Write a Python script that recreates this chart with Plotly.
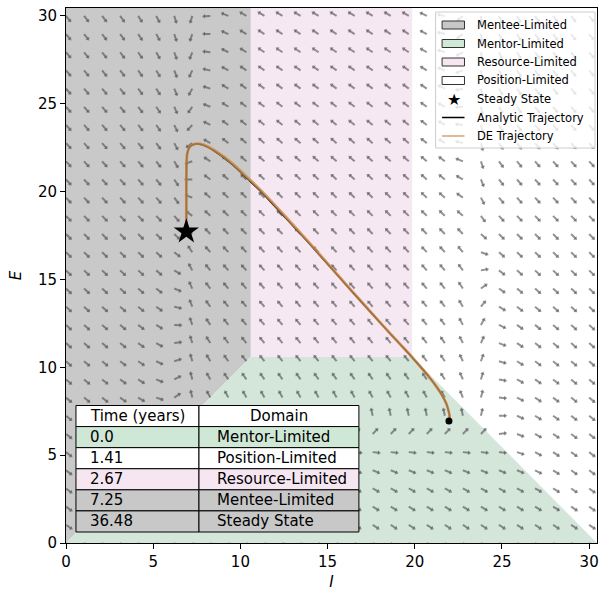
import numpy as np
import plotly.graph_objects as go

# ---------------- data ----------------
AX_MAX = 30.45          # axis limit (both axes)
R_LIM = 10.6            # resource limit -> domain corner at (R_LIM, R_LIM)
K_POS = 30.45           # position capacity: position-limited boundary E = K_POS - I

# direction-field model (parameters estimated from the arrow directions)
C_RATE = 1.16
LAMBDA = 8.0
DELTA = 0.14
GAMMA = 5.5
grid_vals = np.linspace(0, 30, 30)
ARROW_LEN = 0.36

# trajectories (I, E)
de_I = [21.96, 22.0, 21.93, 21.8, 21.57, 21.22, 20.81, 20.33, 19.84, 19.27, 18.71, 17.5, 16.3, 15.1,
        13.9, 12.6, 11.28, 10.52, 9.57, 8.62, 7.9, 7.4, 7.1, 6.95, 6.91, 6.9, 6.9, 6.9, 6.9]
de_E = [6.94, 7.19, 7.55, 7.95, 8.4, 8.93, 9.46, 10.03, 10.59, 11.2, 11.8, 13.12, 14.45, 15.8,
        17.15, 18.57, 19.97, 20.7, 21.58, 22.28, 22.66, 22.72, 22.55, 22.15, 21.5, 20.5, 19.5, 18.5, 17.75]
an_I = [21.96, 22.0, 21.93, 21.8, 21.56, 21.2, 20.78, 20.28, 19.77, 19.2, 18.63, 17.44, 16.25, 15.07,
        13.9, 12.6, 11.28, 10.52, 9.57, 8.62, 7.9, 7.4, 7.1, 6.95, 6.91, 6.9, 6.9, 6.9, 6.9]
an_E = [6.94, 7.19, 7.55, 7.95, 8.42, 8.96, 9.5, 10.08, 10.65, 11.27, 11.87, 13.17, 14.48, 15.8,
        17.1, 18.5, 19.9, 20.63, 21.52, 22.24, 22.64, 22.71, 22.55, 22.15, 21.5, 20.5, 19.5, 18.5, 17.75]
steady_I, steady_E = [6.9], [17.72]
start_I, start_E = [21.96], [6.94]

# table
table_header = ["Time (years)", "Domain"]
table_time = ["0.0", "1.41", "2.67", "7.25", "36.48"]
table_domain = ["Mentor-Limited", "Position-Limited", "Resource-Limited", "Mentee-Limited", "Steady State"]

# legend
legend_patches = ["Mentee-Limited", "Mentor-Limited", "Resource-Limited", "Position-Limited"]
legend_others = ["Steady State", "Analytic Trajectory", "DE Trajectory"]

# colours
COL_MENTEE = "#c9c9c9"
COL_MENTOR = "#d4e5d9"
COL_RESOURCE = "#f5e8f2"
COL_POSITION = "#ffffff"
PATCH_COL = {"Mentee-Limited": "#c8c8c8", "Mentor-Limited": "#d0e9d6",
             "Resource-Limited": "#f5e6f1", "Position-Limited": "#ffffff"}
TAB_COL = {"Mentor-Limited": "#cfe8d5", "Position-Limited": "#ffffff",
           "Resource-Limited": "#f5e6f1", "Mentee-Limited": "#c8c8c8", "Steady State": "#c8c8c8"}
DE_COL = "rgba(205,140,75,0.8)"
FONT = "DejaVu Sans"

fig = go.Figure()

# ---------------- domain regions ----------------
regions = [
    ([0, R_LIM, R_LIM, 0], [0, R_LIM, AX_MAX, AX_MAX], COL_MENTEE),
    ([R_LIM, K_POS - R_LIM, K_POS - R_LIM, R_LIM], [R_LIM, R_LIM, AX_MAX, AX_MAX], COL_RESOURCE),
    ([0, K_POS, K_POS - R_LIM, R_LIM], [0, 0, R_LIM, R_LIM], COL_MENTOR),
]
for xs, ys, col in regions:
    fig.add_trace(go.Scatter(x=xs, y=ys, fill="toself", fillcolor=col, mode="lines",
                             line=dict(width=0, color=col), hoverinfo="skip", showlegend=False))

# ---------------- direction field ----------------
gI, gE = np.meshgrid(grid_vals, grid_vals)
h = C_RATE * np.minimum.reduce([gI, gE, np.full_like(gI, R_LIM), K_POS - gI])
dI = LAMBDA - h
dE = h - DELTA * gE - GAMMA
nrm = np.hypot(dI, dE)
nrm[nrm == 0] = 1
u = (dI / nrm).ravel()
v = (dE / nrm).ravel()
tx, ty = gI.ravel(), gE.ravel()
hx, hy = tx + ARROW_LEN * u, ty + ARROW_LEN * v
seg_x, seg_y = [], []
for a, b, c, d in zip(tx, ty, hx, hy):
    seg_x += [a, c, None]
    seg_y += [b, d, None]
ARROW_COL = "rgba(75,75,75,0.6)"
fig.add_trace(go.Scatter(x=seg_x, y=seg_y, mode="lines", line=dict(color=ARROW_COL, width=2.0),
                         hoverinfo="skip", showlegend=False))
fig.add_trace(go.Scatter(x=hx, y=hy, mode="markers",
                         marker=dict(symbol="triangle-up", size=4, color=ARROW_COL,
                                     angle=np.degrees(np.arctan2(u, v)), line=dict(width=0)),
                         hoverinfo="skip", showlegend=False))

# ---------------- trajectories ----------------
fig.add_trace(go.Scatter(x=an_I, y=an_E, mode="lines", line=dict(color="black", width=1.6),
                         line_shape="spline", line_smoothing=0.6, name="Analytic Trajectory",
                         showlegend=False, hoverinfo="skip"))
fig.add_trace(go.Scatter(x=de_I, y=de_E, mode="lines", line=dict(color=DE_COL, width=2.8),
                         line_shape="spline", line_smoothing=0.6, name="DE Trajectory",
                         showlegend=False, hoverinfo="skip"))
fig.add_trace(go.Scatter(x=start_I, y=start_E, mode="markers",
                         marker=dict(color="black", size=7), showlegend=False, hoverinfo="skip"))
fig.add_trace(go.Scatter(x=steady_I, y=steady_E, mode="markers", name="Steady State",
                         marker=dict(color="black", size=19, symbol="star"), showlegend=False,
                         hoverinfo="skip"))

shapes, annots = [], []

# ---------------- legend (drawn in plot-area fractions) ----------------
def fx(px):
    return (px - 66) / 533.0


def fy(py):
    return (543 - py) / 535.0


L_X0, L_X1, L_Y0, L_Y1 = fx(437), fx(597), fy(148), fy(12)
shapes.append(dict(type="rect", xref="paper", yref="paper", x0=L_X0, x1=L_X1, y0=L_Y0, y1=L_Y1,
                   fillcolor="rgba(255,255,255,0.8)", line=dict(color="#cccccc", width=1), layer="above"))
entry_py = [25, 43.5, 62, 80.5, 99, 117.5, 136]
for i, name in enumerate(legend_patches):
    py = entry_py[i]
    shapes.append(dict(type="rect", xref="paper", yref="paper", x0=fx(443.5), x1=fx(466),
                       y0=fy(py + 4), y1=fy(py - 4), fillcolor=PATCH_COL[name],
                       line=dict(color="#333333", width=1), layer="above"))
    annots.append(dict(xref="paper", yref="paper", x=fx(477), y=fy(py), text=name, showarrow=False,
                       xanchor="left", yanchor="middle", font=dict(family=FONT, size=11.5, color="black")))
for j, name in enumerate(legend_others):
    py = entry_py[4 + j]
    if name == "Steady State":
        annots.append(dict(xref="paper", yref="paper", x=fx(455), y=fy(py), text="\u2605",
                           showarrow=False, xanchor="center", yanchor="middle",
                           font=dict(family=FONT, size=16, color="black")))
    else:
        col = "black" if name == "Analytic Trajectory" else DE_COL
        shapes.append(dict(type="line", xref="paper", yref="paper", x0=fx(443.5), x1=fx(466),
                           y0=fy(py), y1=fy(py), line=dict(color=col, width=1.5), layer="above"))
    annots.append(dict(xref="paper", yref="paper", x=fx(477), y=fy(py), text=name, showarrow=False,
                       xanchor="left", yanchor="middle", font=dict(family=FONT, size=11.5, color="black")))

# ---------------- table ----------------
T_LEFT, T_SPLIT, T_RIGHT = fx(76), fx(199.5), fx(360)
T_TOP, T_BOTTOM = fy(405.5), fy(532)
n_rows = len(table_time) + 1
row_h = (T_TOP - T_BOTTOM) / n_rows
row_fills = ["#ffffff"] + [TAB_COL[d] for d in table_domain]
row_texts = [table_header] + [[t, d] for t, d in zip(table_time, table_domain)]
for r in range(n_rows):
    y1 = T_TOP - r * row_h
    y0 = y1 - row_h
    for (x0, x1), txt in zip([(T_LEFT, T_SPLIT), (T_SPLIT, T_RIGHT)], row_texts[r]):
        shapes.append(dict(type="rect", xref="paper", yref="paper", x0=x0, x1=x1, y0=y0, y1=y1,
                           fillcolor=row_fills[r], line=dict(color="black", width=1), layer="above"))
        if r == 0:
            annots.append(dict(xref="paper", yref="paper", x=(x0 + x1) / 2, y=(y0 + y1) / 2,
                               text=txt, showarrow=False, xanchor="center", yanchor="middle",
                               font=dict(family=FONT, size=15, color="black")))
        else:
            annots.append(dict(xref="paper", yref="paper", x=x0 + 0.1 * (x1 - x0), y=(y0 + y1) / 2,
                               text=txt, showarrow=False, xanchor="left", yanchor="middle",
                               font=dict(family=FONT, size=15, color="black")))

axis_common = dict(range=[0, AX_MAX], showgrid=False, zeroline=False, ticks="outside", ticklen=5,
                   tickwidth=1, tickcolor="black", showline=True, mirror=True, linecolor="black",
                   linewidth=1, tickvals=[0, 5, 10, 15, 20, 25, 30],
                   tickfont=dict(family=FONT, size=15, color="black"))
fig.update_layout(
    width=601, height=592,
    margin=dict(l=66, r=2, t=8, b=49),
    plot_bgcolor="white", paper_bgcolor="white",
    xaxis=dict(**axis_common, title=dict(text="<i>I</i>", font=dict(family=FONT, size=15, color="black"),
                                         standoff=6)),
    yaxis=dict(**axis_common, title=dict(text="<i>E</i>", font=dict(family=FONT, size=15, color="black"),
                                         standoff=12)),
    shapes=shapes, annotations=annots,
    showlegend=False,
)
fig.write_html("out.html")
